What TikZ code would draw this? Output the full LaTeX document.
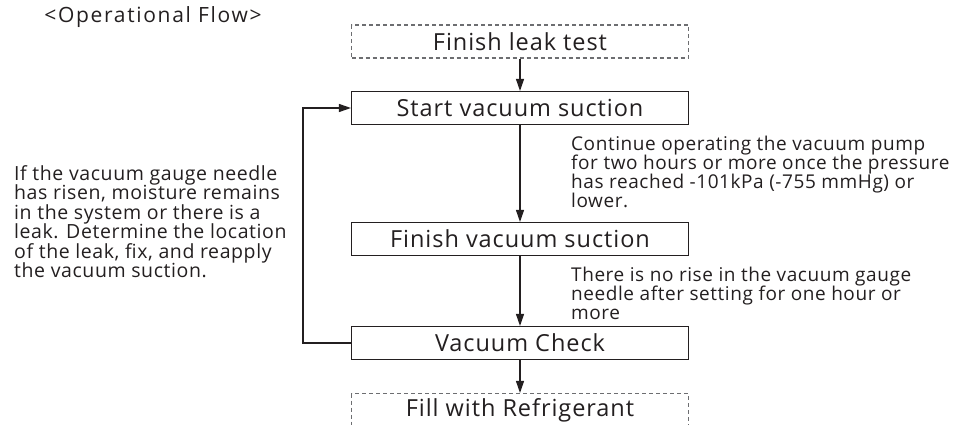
\documentclass[tikz,border=0pt]{standalone}
\usepackage{fontspec}
\setmainfont{Open Sans}
\newfontfamily\notefont[LetterSpace=3]{Open Sans}
\newfontfamily\boxfont[LetterSpace=4]{Open Sans}
\newfontfamily\titlefont[LetterSpace=8]{Open Sans}
\newcommand\tightlines{\lineskiplimit=-50pt\relax}
\usetikzlibrary{arrows.meta}
\definecolor{ink}{HTML}{231F20}
\definecolor{dash}{HTML}{6D6E71}
\tikzset{
  stepbox/.style={draw=ink, line width=1.1pt, minimum width=337pt, minimum height=33pt, inner sep=0pt, font=\boxfont\fontsize{23.5}{25}\selectfont, text=ink},
  openbox/.style={stepbox, draw=dash, dash pattern=on 4pt off 3pt},
  flow/.style={draw=ink, line width=1.1pt, -{Triangle[length=12pt,width=8pt]}},
  note/.style={anchor=north west, inner sep=0pt, align=left, text=ink, font=\tightlines\notefont\fontsize{19}{19}\selectfont},
  leftnote/.style={note, font=\tightlines\notefont\fontsize{19.5}{19.5}\selectfont}
}
\begin{document}
\begin{tikzpicture}[x=1pt,y=-1pt]
\useasboundingbox (0,0) rectangle (955,425);
\node[text=ink, font=\titlefont\fontsize{21}{23}\selectfont] (title) at (153,17) {<Operational Flow>};
\node[openbox] (leak) at (520,41.5) {Finish leak test};
\node[stepbox] (start) at (520,108) {Start vacuum suction};
\node[stepbox] (finish) at (520,239) {Finish vacuum suction};
\node[stepbox] (check) at (520,343) {Vacuum Check};
\node[openbox] (fill) at (520,410) {Fill with Refrigerant};
\coordinate (bl) at (303,343);
\coordinate (tl) at (303,108);
\draw[flow] (leak) -- (start);
\draw[flow] (start) -- (finish);
\draw[flow] (finish) -- (check);
\draw[flow] (check) -- (fill);
\draw[flow] (check.west) -- (bl) -- (tl) -- (start.west);
\node[note] (n1) at (571,136) {Continue operating the vacuum pump\\for two hours or more once the pressure\\has reached -101kPa (-755 mmHg) or\\lower.};
\node[note] (n2) at (571,267) {There is no rise in the vacuum gauge\\needle after setting for one hour or\\more};
\node[leftnote] (n3) at (14,165) {If the vacuum gauge needle\\has risen, moisture remains\\in the system or there is a\\leak. Determine the location\\of the leak, fix, and reapply\\the vacuum suction.};
\end{tikzpicture}
\end{document}
